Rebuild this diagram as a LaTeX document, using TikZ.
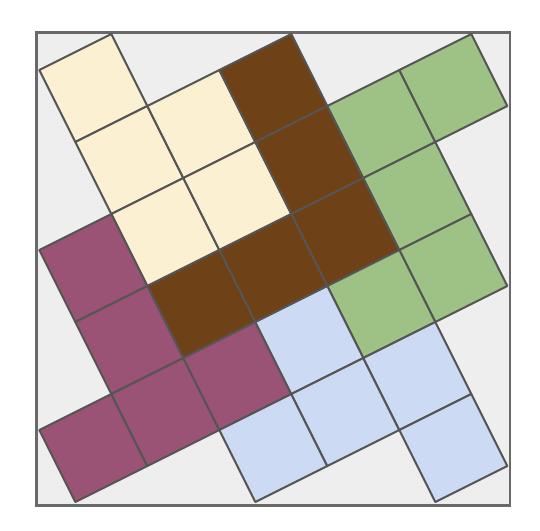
\documentclass[tikz,border=0pt]{standalone}
\usepackage{xcolor}
\usepackage{tikz}
\definecolor{creamclr}{RGB}{252,240,210}
\definecolor{brownclr}{RGB}{111,65,23}
\definecolor{greenclr}{RGB}{158,194,133}
\definecolor{plumclr}{RGB}{154,82,117}
\definecolor{blueclr}{RGB}{204,218,244}
\definecolor{boardclr}{RGB}{238,238,238}
\definecolor{lineclr}{RGB}{85,85,85}
\definecolor{frameclr}{RGB}{105,105,105}
\tikzset{
  board/.style={draw=frameclr,line width=2.2pt,fill=boardclr},
  cell/.style={draw=lineclr,line width=2pt,line join=round},
  cream/.style={cell,fill=creamclr},
  brown/.style={cell,fill=brownclr},
  green/.style={cell,fill=greenclr},
  plum/.style={cell,fill=plumclr},
  sky/.style={cell,fill=blueclr},
}

\begin{document}
\begin{tikzpicture}[x=1pt,y=-1pt]
\useasboundingbox (0,0) rectangle (540,530);

% Board
\draw[board] (36.5,32.5) rectangle (510,505.5);

% Tilted grid: u = 72 right / 36 up, v = 36 right / 72 down
\begin{scope}[shift={(39.3,70)},x={(72pt,36pt)},y={(36pt,-72pt)}]
% Cream piece
\foreach \i/\j in {0/0,0/1,1/1,0/2,1/2}
  \draw[cream] (\i,\j) -- ++(1,0) -- ++(0,1) -- ++(-1,0) -- cycle;
% Brown piece
\foreach \i/\j in {2/1,2/2,2/3,1/3,0/3}
  \draw[brown] (\i,\j) -- ++(1,0) -- ++(0,1) -- ++(-1,0) -- cycle;
% Green piece
\foreach \i/\j in {3/2,4/2,3/3,3/4,2/4}
  \draw[green] (\i,\j) -- ++(1,0) -- ++(0,1) -- ++(-1,0) -- cycle;
% Plum piece
\foreach \i/\j in {-1/2,-1/3,-2/4,-1/4,0/4}
  \draw[plum] (\i,\j) -- ++(1,0) -- ++(0,1) -- ++(-1,0) -- cycle;
% Blue piece
\foreach \i/\j in {1/4,0/5,1/5,2/5,2/6}
  \draw[sky] (\i,\j) -- ++(1,0) -- ++(0,1) -- ++(-1,0) -- cycle;
\end{scope}

\end{tikzpicture}
\end{document}
